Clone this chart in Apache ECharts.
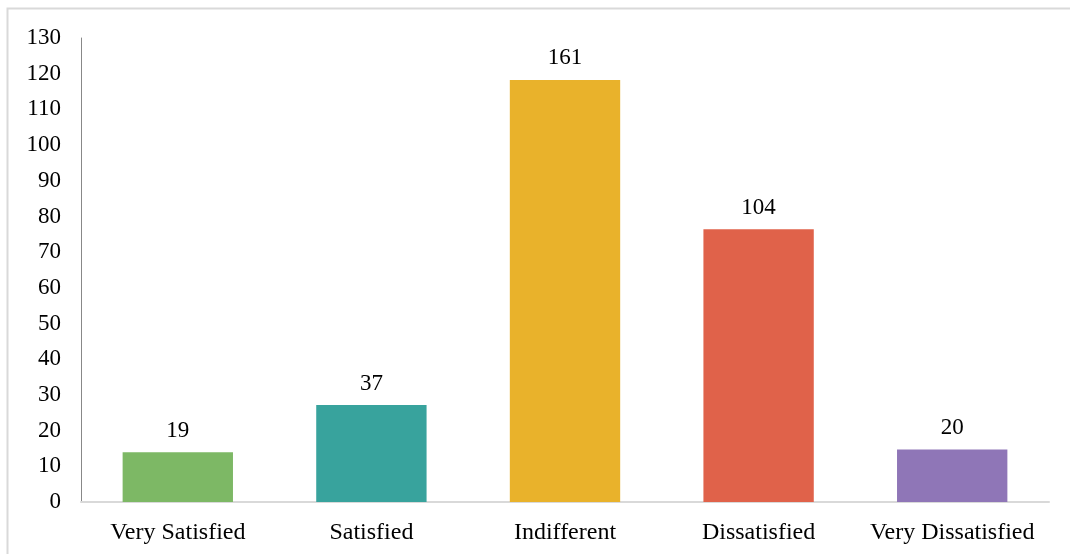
<!DOCTYPE html>
<html>
<head>
<meta charset="utf-8">
<script src="https://cdn.jsdelivr.net/npm/echarts@6/dist/echarts.min.js"></script>
<style>
  html, body { margin: 0; padding: 0; background: #fff; }
  #chart { width: 1070px; height: 554px; }
</style>
</head>
<body>
<div id="chart"></div>
<script>
// Survey responses per satisfaction level
const categories = ['Very Satisfied', 'Satisfied', 'Indifferent', 'Dissatisfied', 'Very Dissatisfied'];
const counts = [19, 37, 161, 104, 20];
const barColors = ['#7db865', '#38a39d', '#e9b22b', '#e0624a', '#8f76b7'];

// Printed axis runs 0–130; bars use their own value scale
const axisMax = 130;
const axisStep = 10;
const barScaleMax = 177;

const serif = '"Liberation Serif", "DejaVu Serif", serif';

const chart = echarts.init(document.getElementById('chart'));
chart.setOption({
  animation: false,
  backgroundColor: '#fff',
  grid: { left: 81, right: 21, top: 38, bottom: 52 },
  graphic: [{
    type: 'polyline',
    shape: { points: [[7.5, 554], [7.5, 8.5], [1070, 8.5]] },
    style: { stroke: '#d9d9d9', lineWidth: 2, fill: null },
    silent: true
  }],
  xAxis: {
    type: 'category',
    data: categories,
    axisLine: { show: true, lineStyle: { color: '#d9d9d9', width: 2 } },
    axisTick: { show: false },
    axisLabel: { interval: 0, color: '#000', fontFamily: serif, fontSize: 24, margin: 19 }
  },
  yAxis: [{
    type: 'value',
    min: 0,
    max: axisMax,
    interval: axisStep,
    axisLine: { show: true, lineStyle: { color: '#888', width: 1 } },
    axisTick: { show: false },
    splitLine: { show: false },
    axisLabel: { color: '#000', fontFamily: serif, fontSize: 23, margin: 20, padding: [4, 0, 0, 0] }
  }, {
    type: 'value',
    min: 0,
    max: barScaleMax,
    show: false,
    splitLine: { show: false }
  }],
  series: [{
    type: 'bar',
    yAxisIndex: 1,
    barWidth: '57%',
    data: counts.map((v, i) => ({ value: v, itemStyle: { color: barColors[i] } })),
    label: {
      show: true,
      position: 'top',
      distance: 10,
      color: '#000',
      fontFamily: serif,
      fontSize: 23
    }
  }]
});
</script>
</body>
</html>
